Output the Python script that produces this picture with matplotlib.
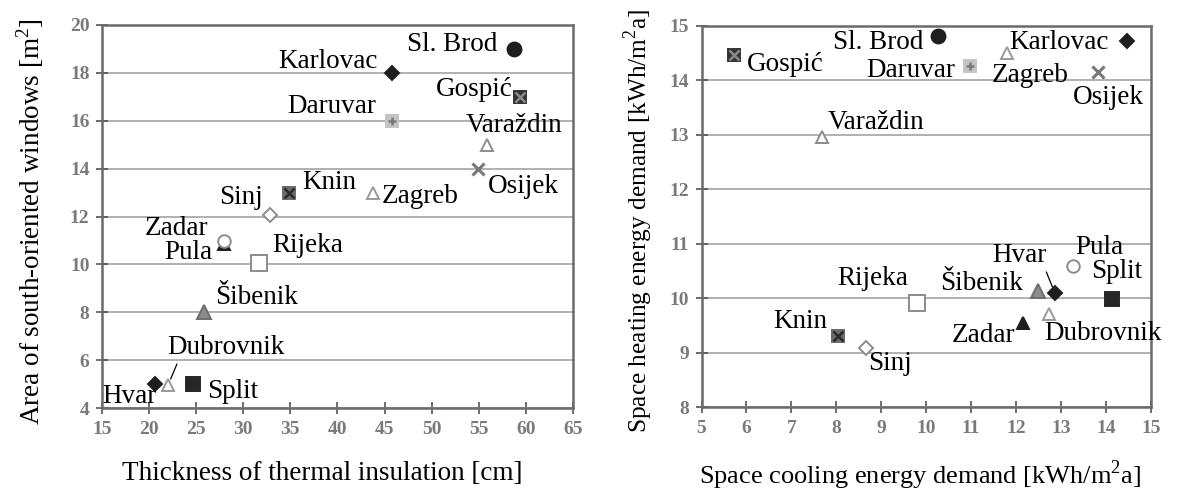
import matplotlib
matplotlib.use('Agg')
import matplotlib.pyplot as plt

plt.rcParams['font.family'] = ['Liberation Serif', 'DejaVu Serif']
plt.rcParams['mathtext.fontset'] = 'custom'
plt.rcParams['mathtext.rm'] = 'Liberation Serif'

# data: left chart (insulation thickness vs window area)
cities = ['Sl. Brod', 'Karlovac', 'Gospić', 'Daruvar', 'Varaždin', 'Osijek', 'Knin', 'Zagreb',
          'Sinj', 'Zadar', 'Pula', 'Rijeka', 'Šibenik', 'Dubrovnik', 'Hvar', 'Split']
insulation = [58.7, 45.8, 59.4, 45.8, 55.9, 54.9, 34.9, 43.8,
              32.8, 27.9, 27.9, 31.7, 25.8, 22.0, 20.6, 24.7]
windows = [19.0, 18.0, 17.0, 16.0, 15.0, 14.0, 13.0, 13.0,
           12.05, 10.85, 11.0, 10.05, 8.0, 4.95, 5.0, 5.0]

# data: right chart (cooling vs heating demand)
cooling = [10.27, 14.47, 5.73, 10.98, 7.69, 13.82, 8.04, 11.8,
           8.67, 12.15, 13.27, 9.8, 12.49, 12.73, 12.87, 14.13]
heating = [14.82, 14.72, 14.47, 14.27, 12.97, 14.16, 9.3, 14.5,
           9.08, 9.54, 10.6, 9.92, 10.14, 9.72, 10.09, 9.98]

# marker styles per city: marker, face, edge, size, overlay
styles = {
    'Sl. Brod': ('o', '#1e1e1e', '#1e1e1e', 10, None),
    'Karlovac': ('D', '#1e1e1e', '#1e1e1e', 7.5, None),
    'Gospić': ('s', '#333333', '#333333', 9, ('x', '#8a8a8a')),
    'Daruvar': ('s', '#c4c4c4', '#c4c4c4', 8, ('+', '#7a7a7a')),
    'Varaždin': ('^', 'white', '#8c8c8c', 9, None),
    'Osijek': ('x', '#777777', '#777777', 9, None),
    'Knin': ('s', '#6a6a6a', '#6a6a6a', 9, ('x', '#2a2a2a')),
    'Zagreb': ('^', 'white', '#9a9a9a', 9, None),
    'Sinj': ('D', 'white', '#8c8c8c', 7.5, None),
    'Zadar': ('^', '#1e1e1e', '#1e1e1e', 8, None),
    'Pula': ('o', 'white', '#8c8c8c', 9, None),
    'Rijeka': ('s', 'white', '#8c8c8c', 11, None),
    'Šibenik': ('^', '#8c8c8c', '#6e6e6e', 10, None),
    'Dubrovnik': ('^', 'white', '#9a9a9a', 9, None),
    'Hvar': ('D', '#1e1e1e', '#1e1e1e', 7.5, None),
    'Split': ('s', '#262626', '#262626', 10, None),
}

# label offsets in pixels (dx, dy, ha)
left_labels = {
    'Sl. Brod': (-16, 4, 'right'), 'Karlovac': (-14, 11, 'right'), 'Gospić': (-8, 7, 'right'),
    'Daruvar': (-16, 14, 'right'), 'Varaždin': (-22, 19, 'left'), 'Osijek': (10, -18, 'left'),
    'Knin': (13, 10, 'left'), 'Zagreb': (8, -4, 'left'), 'Sinj': (-7, 18, 'right'),
    'Zadar': (-15, 16, 'right'), 'Pula': (-11, -12, 'right'), 'Rijeka': (13, 18, 'left'),
    'Šibenik': (11, 15, 'left'), 'Dubrovnik': (-1, 38, 'left'), 'Hvar': (2, -12, 'right'),
    'Split': (14, -7, 'left'),
}
right_labels = {
    'Sl. Brod': (-15, -7, 'right'), 'Karlovac': (-18, -1, 'right'), 'Gospić': (13, -10, 'left'),
    'Daruvar': (-15, -5, 'right'), 'Varaždin': (5, 14, 'left'), 'Osijek': (-25, -26, 'left'),
    'Knin': (-11, 15, 'right'), 'Zagreb': (-15, -22, 'left'), 'Sinj': (2, -15, 'left'),
    'Zadar': (-7, -12, 'right'), 'Pula': (2, 18, 'left'), 'Rijeka': (-9, 24, 'right'),
    'Šibenik': (-15, 7, 'right'), 'Dubrovnik': (-4, -20, 'left'), 'Hvar': (-63, 38, 'left'),
    'Split': (-20, 28, 'left'),
}
leaders = {'left': 'Dubrovnik', 'right': 'Hvar'}

FS = 19.5
fig = plt.figure(figsize=(11.79, 4.9), dpi=100)
ax1 = fig.add_axes([0.0865, 0.167, 0.3995, 0.782])
ax2 = fig.add_axes([0.595, 0.169, 0.381, 0.778])

PX = 0.72  # pixel -> point


def draw(ax, xs, ys, labels, side):
    # draw filled-dark triangles first so the circles sit on top
    order = sorted(range(len(cities)), key=lambda i: 0 if cities[i] == 'Zadar' else 1)
    for i in order:
        c = cities[i]
        m, fc, ec, ms, ov = styles[c]
        mew = 2.2 if m == 'x' else 1.4
        ax.plot(xs[i], ys[i], marker=m, ms=ms, mfc=fc, mec=ec, mew=mew, ls='none', zorder=3)
        if ov is not None:
            ax.plot(xs[i], ys[i], marker=ov[0], ms=ms * 0.75, mec=ov[1], mew=1.8, ls='none', zorder=4)
        dx, dy, ha = labels[c]
        kw = dict(xytext=(dx * PX, dy * PX), textcoords='offset points', ha=ha, va='center',
                  fontsize=FS, family='Liberation Serif', zorder=5)
        if leaders[side] == c:
            rel = (0.1, 0.0) if side == 'left' else (0.97, 0.0)
            kw['arrowprops'] = dict(arrowstyle='-', lw=0.9, color='black', relpos=rel,
                                    shrinkA=1, shrinkB=5)
        ax.annotate(c, (xs[i], ys[i]), **kw)


def style_axes(ax):
    ax.grid(axis='y', color='#b0b0b0', lw=1.4)
    ax.set_axisbelow(True)
    for s in ax.spines.values():
        s.set_color('#6a6a6a')
        s.set_linewidth(1.8)
    ax.tick_params(direction='inout', length=8, width=1.2, color='#555555',
                   labelcolor='#7a7a7a', labelsize=14, pad=5)
    for lab in ax.get_xticklabels() + ax.get_yticklabels():
        lab.set_fontweight('bold')


draw(ax1, insulation, windows, left_labels, 'left')
ax1.set_xlim(15, 65)
ax1.set_ylim(4, 20)
ax1.set_xticks(range(15, 66, 5))
ax1.set_yticks(range(4, 21, 2))
style_axes(ax1)
ax1.set_xlabel('Thickness of thermal insulation [cm]', fontsize=19.5, va='center')
ax1.set_ylabel('Area of south-oriented windows [m$^2$]', fontsize=19.5, va='center')
ax1.xaxis.set_label_coords(0.467, -0.17)
ax1.yaxis.set_label_coords(-0.153, 0.486)

draw(ax2, cooling, heating, right_labels, 'right')
ax2.set_xlim(5, 15)
ax2.set_ylim(8, 15)
ax2.set_xticks(range(5, 16))
ax2.set_yticks(range(8, 16))
style_axes(ax2)
ax2.set_xlabel('Space cooling energy demand [kWh/m$^2$a]', fontsize=19, va='center')
ax2.set_ylabel('Space heating energy demand [kWh/m$^2$a]', fontsize=18.3, va='center')
ax2.xaxis.set_label_coords(0.487, -0.178)
ax2.yaxis.set_label_coords(-0.14, 0.49)

fig.savefig('out.png', dpi=100)
